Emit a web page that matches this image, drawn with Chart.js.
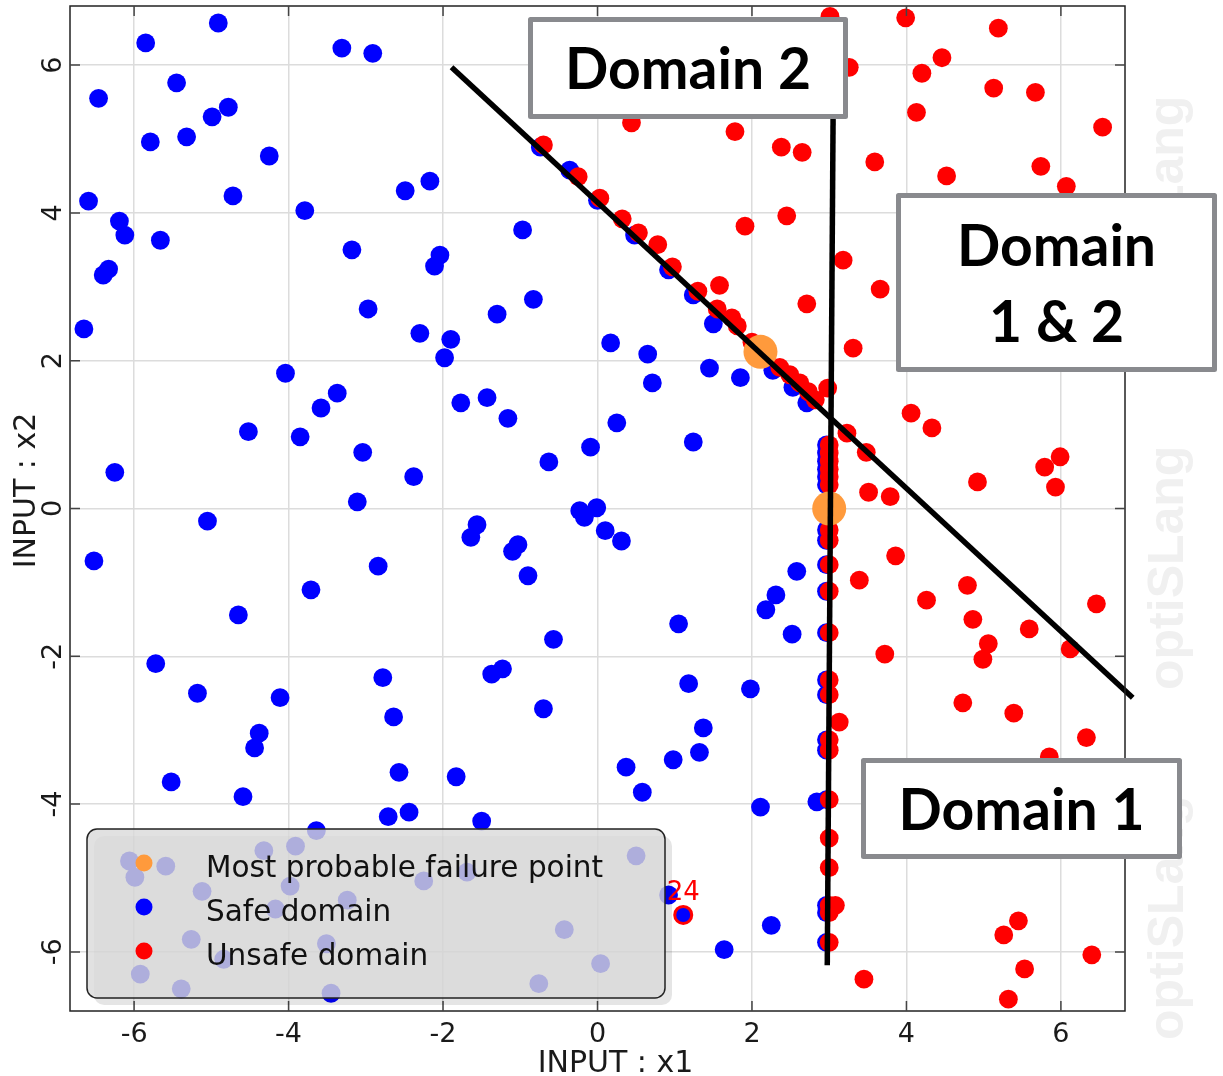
<!DOCTYPE html>
<html>
<head>
<meta charset="utf-8">
<style>
  html, body { margin: 0; padding: 0; background: #fff; }
  canvas { display: block; }
</style>
<script src="https://cdn.jsdelivr.net/npm/chart.js@4.4.0/dist/chart.umd.min.js"></script>
</head>
<body>
<canvas id="chart" width="1223" height="1076"></canvas>
<script>
// axis ranges and ticks
const xMin = -6.83, xMax = 6.83;
const yMin = -6.8, yMax = 6.8;
const xTickValues = [-6, -4, -2, 0, 2, 4, 6];
const yTickValues = [-6, -4, -2, 0, 2, 4, 6];
const xTitle = "INPUT : x1";
const yTitle = "INPUT : x2";

// samples in the safe domain [x1, x2]
const safePoints = [
  [-4.91, 6.57], [-5.85, 6.30], [-3.31, 6.23], [-2.91, 6.16], [-6.46, 5.55], [-5.45, 5.76],
  [-4.78, 5.43], [-4.99, 5.30], [-5.32, 5.03], [-5.79, 4.96], [-4.25, 4.77], [-4.72, 4.23],
  [-6.59, 4.16], [-2.49, 4.30], [-2.17, 4.43], [-3.79, 4.03], [-6.19, 3.89], [-6.12, 3.70],
  [-5.66, 3.63], [-3.18, 3.50], [-6.33, 3.24], [-6.40, 3.16], [-2.97, 2.70], [-6.65, 2.43],
  [-0.97, 3.77], [-2.04, 3.43], [-2.11, 3.28], [-0.83, 2.83], [-1.30, 2.63], [-2.30, 2.37],
  [-1.90, 2.29], [-1.98, 2.04], [0.17, 2.24], [0.65, 2.09], [1.50, 2.50], [-0.36, 4.58],
  [1.45, 1.90], [1.85, 1.77], [0.71, 1.70], [-1.77, 1.43], [-1.43, 1.50], [-1.16, 1.22],
  [0.25, 1.16], [-0.09, 0.83], [1.24, 0.90], [-0.63, 0.63], [-2.38, 0.43], [-0.23, -0.03],
  [-0.17, -0.12], [-0.01, 0.01], [0.10, -0.30], [0.31, -0.44], [-1.56, -0.22], [-1.64, -0.39],
  [-1.03, -0.49], [-1.10, -0.58], [-0.90, -0.91], [2.58, -0.85], [2.31, -1.17], [2.18, -1.37],
  [1.05, -1.56], [2.52, -1.70], [-0.57, -1.77], [-1.23, -2.17], [-1.37, -2.24], [1.18, -2.37],
  [1.98, -2.44], [-0.70, -2.71], [1.37, -2.97], [1.32, -3.30], [0.98, -3.40], [0.37, -3.50],
  [0.58, -3.84], [-4.04, 1.83], [-3.37, 1.56], [-3.58, 1.36], [-4.52, 1.04], [-3.85, 0.97],
  [-3.04, 0.76], [-6.25, 0.49], [-3.11, 0.09], [-5.05, -0.17], [-6.52, -0.71], [-2.84, -0.78],
  [-3.71, -1.10], [-4.65, -1.44], [-5.72, -2.10], [-2.78, -2.29], [-5.18, -2.50], [-4.11, -2.56],
  [-2.64, -2.82], [-4.38, -3.04], [-4.44, -3.24], [-5.52, -3.70], [-4.59, -3.90], [-2.57, -3.57],
  [-1.83, -3.63], [-2.71, -4.17], [-2.44, -4.11], [-1.50, -4.23], [-3.64, -4.36],
  [-6.06, -4.77], [-5.99, -4.99], [-5.59, -4.84], [-5.12, -5.18], [-4.32, -4.63], [-3.91, -4.57],
  [-3.98, -5.11], [-4.17, -5.42], [-3.24, -5.30], [-5.26, -5.83], [-4.84, -6.10], [-3.51, -5.89],
  [-5.92, -6.30], [-5.39, -6.50], [-3.45, -6.56], [-2.25, -5.04], [-1.69, -4.92], [0.50, -4.70],
  [-0.43, -5.70], [0.04, -6.16], [-0.76, -6.43], [0.92, -5.23],
  [2.11, -4.04], [2.84, -3.97], [2.25, -5.64], [1.64, -5.97],
  [-0.74, 4.89], [0.00, 4.17], [0.48, 3.70], [0.92, 3.23], [1.24, 2.89], [2.27, 1.87],
  [2.53, 1.64], [2.71, 1.43],
  [2.965, 0.86], [2.965, 0.75], [2.965, 0.64], [2.965, 0.53], [2.965, 0.43], [2.965, 0.32],
  [2.965, -0.29], [2.965, -0.43], [2.965, -0.76], [2.965, -1.12], [2.965, -1.68], [2.965, -2.32],
  [2.965, -2.52], [2.965, -3.13], [2.965, -3.27], [2.965, -3.94], [2.965, -5.37], [2.965, -5.47],
  [2.965, -5.87]
];

// samples in the unsafe domain [x1, x2]
const unsafePoints = [
  [3.01, 6.66], [3.26, 5.97], [0.44, 5.22], [1.78, 5.10], [2.38, 4.89], [2.65, 4.82],
  [-0.70, 4.92], [-0.25, 4.49], [0.03, 4.20], [0.32, 3.92], [0.53, 3.73], [0.78, 3.57],
  [0.97, 3.27], [1.30, 2.94], [1.58, 3.02], [2.45, 3.96], [1.91, 3.82], [3.18, 3.36],
  [2.71, 2.77], [1.55, 2.70], [1.74, 2.58], [1.81, 2.47], [3.31, 2.17], [2.00, 2.25],
  [2.36, 1.91], [2.49, 1.81], [2.62, 1.70], [2.73, 1.58], [2.82, 1.47], [2.98, 1.63],
  [3.23, 1.02], [3.48, 0.76], [3.51, 0.22], [3.79, 0.16], [3.99, 6.64], [5.19, 6.50],
  [4.46, 6.10], [4.20, 5.89], [5.13, 5.69], [5.67, 5.63], [4.13, 5.36], [6.54, 5.16],
  [3.59, 4.69], [4.52, 4.50], [5.74, 4.63], [6.07, 4.36], [3.66, 2.97], [4.06, 1.29],
  [4.33, 1.09], [5.99, 0.70], [5.79, 0.56], [5.93, 0.29], [4.92, 0.36], [3.86, -0.64],
  [3.39, -0.97], [4.79, -1.04], [4.26, -1.24], [6.46, -1.29], [4.86, -1.50], [5.59, -1.63],
  [5.06, -1.83], [4.99, -2.04], [6.12, -1.90], [3.72, -1.97], [4.73, -2.63], [5.39, -2.77],
  [6.33, -3.10], [5.85, -3.36], [3.13, -2.89], [3.45, -6.37], [5.45, -5.58], [5.26, -5.77],
  [6.40, -6.04], [5.53, -6.23], [5.32, -6.64],
  [3.0, 0.86], [3.0, 0.75], [3.0, 0.64], [3.0, 0.53], [3.0, 0.43], [3.0, 0.32],
  [3.0, -0.29], [3.0, -0.43], [3.0, -0.76], [3.0, -1.12], [3.0, -1.68], [3.0, -2.32],
  [3.0, -2.52], [3.0, -3.13], [3.0, -3.27], [3.0, -3.94], [3.0, -4.46], [3.0, -4.86],
  [3.0, -5.37], [3.08, -5.37], [3.0, -5.47], [3.0, -5.87]
];

// most probable failure points
const mppPoints = [[2.11, 2.12], [3.0, 0.0]];

// marked sample and its id
const markedPoint = [[1.11, -5.50]];
const markedLabel = "24";

// limit state lines
const limitLine2 = [[-1.89, 5.97], [6.93, -2.56]];
const limitLine1 = [[3.055, 6.0], [2.975, -6.18]];

// legend
const legendLabels = ["Most probable failure point", "Safe domain", "Unsafe domain"];
const legendColors = ["#ff9a3c", "#0000ff", "#ff0000"];

// domain boxes
const domainBoxes = [
  { lines: ["Domain 2"], x: 528, y: 17, w: 320, h: 102 },
  { lines: ["Domain", "1 & 2"], x: 896, y: 193, w: 321, h: 179 },
  { lines: ["Domain 1"], x: 861, y: 758, w: 321, h: 101 }
];

function toXY(arr) {
  return arr.map(p => ({ x: p[0], y: p[1] }));
}

// draw text so that the middle of the capitals sits on capY
function capText(ctx, text, x, capY, align) {
  ctx.textAlign = align || "center";
  ctx.textBaseline = "alphabetic";
  const cap = ctx.measureText("H").actualBoundingBoxAscent;
  ctx.fillText(text, x, capY + cap / 2);
}

function capTextRotated(ctx, text, capX, y) {
  ctx.save();
  ctx.translate(capX, y);
  ctx.rotate(-Math.PI / 2);
  capText(ctx, text, 0, 0);
  ctx.restore();
}

const decorPlugin = {
  id: "decor",
  beforeDraw(chart) {
    const ctx = chart.ctx;
    ctx.save();
    ctx.fillStyle = "#ffffff";
    ctx.fillRect(0, 0, chart.width, chart.height);
    // watermark
    ctx.font = "bold 50px 'Liberation Sans'";
    ctx.fillStyle = "#f0f0f0";
    [340, 690, 1040].forEach(y0 => {
      ctx.save();
      ctx.translate(1183, y0);
      ctx.rotate(-Math.PI / 2);
      ctx.textAlign = "left";
      ctx.textBaseline = "alphabetic";
      ctx.fillText("optiSLang", 0, 0);
      ctx.restore();
    });
    ctx.restore();
  },
  afterDatasetsDraw(chart) {
    const ctx = chart.ctx;
    const ca = chart.chartArea;
    const xs = chart.scales.x;
    const ys = chart.scales.y;

    ctx.save();
    // frame
    ctx.strokeStyle = "#222";
    ctx.lineWidth = 1.5;
    ctx.strokeRect(ca.left, ca.top, ca.right - ca.left, ca.bottom - ca.top);

    // inward ticks
    ctx.strokeStyle = "#444";
    ctx.beginPath();
    xTickValues.forEach(v => {
      const px = xs.getPixelForValue(v);
      ctx.moveTo(px, ca.bottom); ctx.lineTo(px, ca.bottom - 10);
      ctx.moveTo(px, ca.top); ctx.lineTo(px, ca.top + 10);
    });
    yTickValues.forEach(v => {
      const py = ys.getPixelForValue(v);
      ctx.moveTo(ca.left, py); ctx.lineTo(ca.left + 10, py);
      ctx.moveTo(ca.right, py); ctx.lineTo(ca.right - 10, py);
    });
    ctx.stroke();

    // tick labels
    ctx.fillStyle = "#1a1a1a";
    ctx.font = "27px 'DejaVu Sans'";
    xTickValues.forEach(v => {
      capText(ctx, String(v), xs.getPixelForValue(v), ca.bottom + 21);
    });
    yTickValues.forEach(v => {
      capTextRotated(ctx, String(v), ca.left - 19, ys.getPixelForValue(v));
    });

    // axis titles
    ctx.font = "30px 'DejaVu Sans'";
    capText(ctx, xTitle, (ca.left + ca.right) / 2 + 18, ca.bottom + 50);
    capTextRotated(ctx, yTitle, 24, (ca.top + ca.bottom) / 2 - 18);

    // id of the marked sample
    ctx.fillStyle = "#ff0000";
    ctx.font = "26px 'DejaVu Sans'";
    markedPoint.forEach(p => {
      capText(ctx, markedLabel, xs.getPixelForValue(p[0]), ys.getPixelForValue(p[1]) - 25);
    });

    // legend
    const lx = 87, ly = 829, lw = 578, lh = 169;
    ctx.fillStyle = "rgba(0,0,0,0.1)";
    ctx.beginPath();
    ctx.roundRect(lx + 7, ly + 7, lw, lh, 10);
    ctx.fill();
    ctx.fillStyle = "rgba(218,218,218,0.8)";
    ctx.strokeStyle = "#222";
    ctx.lineWidth = 1.5;
    ctx.beginPath();
    ctx.roundRect(lx, ly, lw, lh, 10);
    ctx.fill();
    ctx.stroke();
    ctx.font = "29.5px 'DejaVu Sans'";
    legendLabels.forEach((label, i) => {
      const my = ly + 34 + i * 44;
      ctx.fillStyle = legendColors[i];
      ctx.beginPath();
      ctx.arc(lx + 57, my, 8.5, 0, Math.PI * 2);
      ctx.fill();
      ctx.fillStyle = "#111";
      capText(ctx, label, lx + 119, my + 2.5, "left");
    });

    // domain boxes
    domainBoxes.forEach(b => {
      ctx.fillStyle = "#ffffff";
      ctx.fillRect(b.x, b.y, b.w, b.h);
      ctx.strokeStyle = "#898a8e";
      ctx.lineWidth = 5;
      ctx.lineJoin = "round";
      ctx.strokeRect(b.x + 2.5, b.y + 2.5, b.w - 5, b.h - 5);
      ctx.fillStyle = "#000";
      ctx.font = "bold 57px 'Lato'";
      const cx = b.x + b.w / 2;
      const cy = b.y + b.h / 2;
      const step = 76;
      b.lines.forEach((t, i) => {
        capText(ctx, t, cx, cy + (i - (b.lines.length - 1) / 2) * step);
      });
    });
    ctx.restore();
  }
};

const gridOpts = { color: "#dcdcdc", lineWidth: 1.5, drawTicks: false };

new Chart(document.getElementById("chart").getContext("2d"), {
  type: "scatter",
  data: {
    datasets: [
      {
        label: "limit state 2",
        data: toXY(limitLine2),
        showLine: true,
        borderColor: "#000",
        borderWidth: 5.5,
        pointRadius: 0,
        clip: false,
        order: 0
      },
      {
        label: "limit state 1",
        data: toXY(limitLine1),
        showLine: true,
        borderColor: "#000",
        borderWidth: 5.5,
        pointRadius: 0,
        clip: false,
        order: 0
      },
      {
        label: legendLabels[0],
        data: toXY(mppPoints),
        backgroundColor: legendColors[0],
        pointRadius: 17,
        borderWidth: 0,
        order: 1
      },
      {
        label: markedLabel,
        data: toXY(markedPoint),
        backgroundColor: "#0000ff",
        borderColor: "#ff0000",
        borderWidth: 3,
        pointRadius: 8.5,
        order: 2
      },
      {
        label: legendLabels[2],
        data: toXY(unsafePoints),
        backgroundColor: legendColors[2],
        pointRadius: 9.4,
        borderWidth: 0,
        order: 3
      },
      {
        label: legendLabels[1],
        data: toXY(safePoints),
        backgroundColor: legendColors[1],
        pointRadius: 9.4,
        borderWidth: 0,
        order: 4
      }
    ]
  },
  options: {
    responsive: false,
    animation: false,
    devicePixelRatio: 1,
    events: [],
    layout: { autoPadding: false, padding: { left: 0, top: 6, right: 98, bottom: 0 } },
    plugins: {
      legend: { display: false },
      tooltip: { enabled: false }
    },
    scales: {
      x: {
        type: "linear",
        min: xMin,
        max: xMax,
        afterBuildTicks: s => { s.ticks = xTickValues.map(v => ({ value: v })); },
        afterFit: s => { s.height = 65; },
        ticks: { display: false },
        grid: gridOpts,
        border: { display: false }
      },
      y: {
        type: "linear",
        min: yMin,
        max: yMax,
        afterBuildTicks: s => { s.ticks = yTickValues.map(v => ({ value: v })); },
        afterFit: s => { s.width = 70; },
        ticks: { display: false },
        grid: gridOpts,
        border: { display: false }
      }
    }
  },
  plugins: [decorPlugin]
});
</script>
</body>
</html>
